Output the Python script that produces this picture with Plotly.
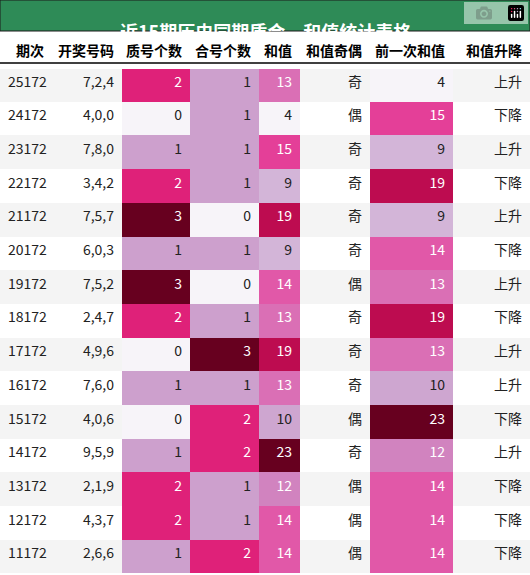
import plotly.graph_objects as go
from plotly.colors import sample_colorscale

title = "近15期历史同期质合，和值统计表格"
headers = ["期次", "开奖号码", "质号个数", "合号个数", "和值", "和值奇偶", "前一次和值", "和值升降"]
periods = ["25172","24172","23172","22172","21172","20172","19172","18172","17172","16172","15172","14172","13172","12172","11172"]
numbers = ["7,2,4","4,0,0","7,8,0","3,4,2","7,5,7","6,0,3","7,5,2","2,4,7","4,9,6","7,6,0","4,0,6","9,5,9","2,1,9","4,3,7","2,6,6"]
prime_cnt = [2,0,1,2,3,1,3,2,0,1,0,1,2,2,1]
comp_cnt = [1,1,1,1,0,1,0,1,3,1,2,2,1,1,2]
sums = [13,4,15,9,19,9,14,13,19,13,10,23,12,14,14]
parity = ["奇","偶","奇","奇","奇","奇","偶","奇","奇","奇","偶","奇","偶","偶","偶"]
prev_sums = [4,15,9,19,9,14,13,19,13,10,23,12,14,14,14]
trend = ["上升","下降","上升","下降","上升","下降","上升","下降","上升","上升","下降","上升","下降","下降","下降"]

n = len(periods)
stripe = ["#f4f4f4" if i % 2 == 0 else "#ffffff" for i in range(n)]

def heat(vals, lo, hi):
    norms = [(v - lo) / (hi - lo) for v in vals]
    fills = sample_colorscale("PuRd", norms)
    fonts = ["white" if t > 0.4 else "#222222" for t in norms]
    return fills, fonts

pf, pc = heat(prime_cnt, 0, 3)
cf, cc = heat(comp_cnt, 0, 3)
sf, sc = heat(sums, 4, 23)
qf, qc = heat(prev_sums, 4, 23)
black = ["#222222"] * n

fig = go.Figure(go.Table(
    columnwidth=[52, 70, 68, 69, 41, 70, 83, 77],
    header=dict(values=[f"<b>{h}</b>" for h in headers],
                fill_color="white", line_color="white", height=30,
                align="right", font=dict(family="Noto Sans CJK SC", size=14, color="black")),
    cells=dict(values=[periods, numbers, prime_cnt, comp_cnt, sums, parity, prev_sums, trend],
               fill_color=[stripe, stripe, pf, cf, sf, stripe, qf, stripe],
               line_width=0, height=33.7,
               align=["left", "right", "right", "right", "right", "right", "right", "right"],
               font=dict(family="Noto Sans CJK SC", size=14,
                         color=[black, black, pc, cc, sc, black, qc, black])),
    domain=dict(x=[0, 1], y=[0, 1 - 32 / 575]),
))
fig.add_shape(type="rect", xref="paper", yref="paper", x0=0, x1=1, y0=1 - 31 / 575, y1=1,
              fillcolor="#2e8b57", line=dict(color="#1a1a1a", width=1))
fig.add_shape(type="line", xref="paper", yref="paper", x0=0, x1=1,
              y0=1 - 63 / 575, y1=1 - 63 / 575, line=dict(color="black", width=1.5))
fig.add_annotation(text=f"<b>{title}</b>", xref="paper", yref="paper", x=0.5, y=1 - 15.5 / 575,
                   showarrow=False, font=dict(family="Noto Sans CJK SC", size=18, color="white"))
fig.update_layout(width=530, height=575, margin=dict(l=0, r=0, t=0, b=0),
                  paper_bgcolor="white")
fig.write_html("out.html", post_script="document.body.style.margin='0';document.body.style.overflow='hidden';")
